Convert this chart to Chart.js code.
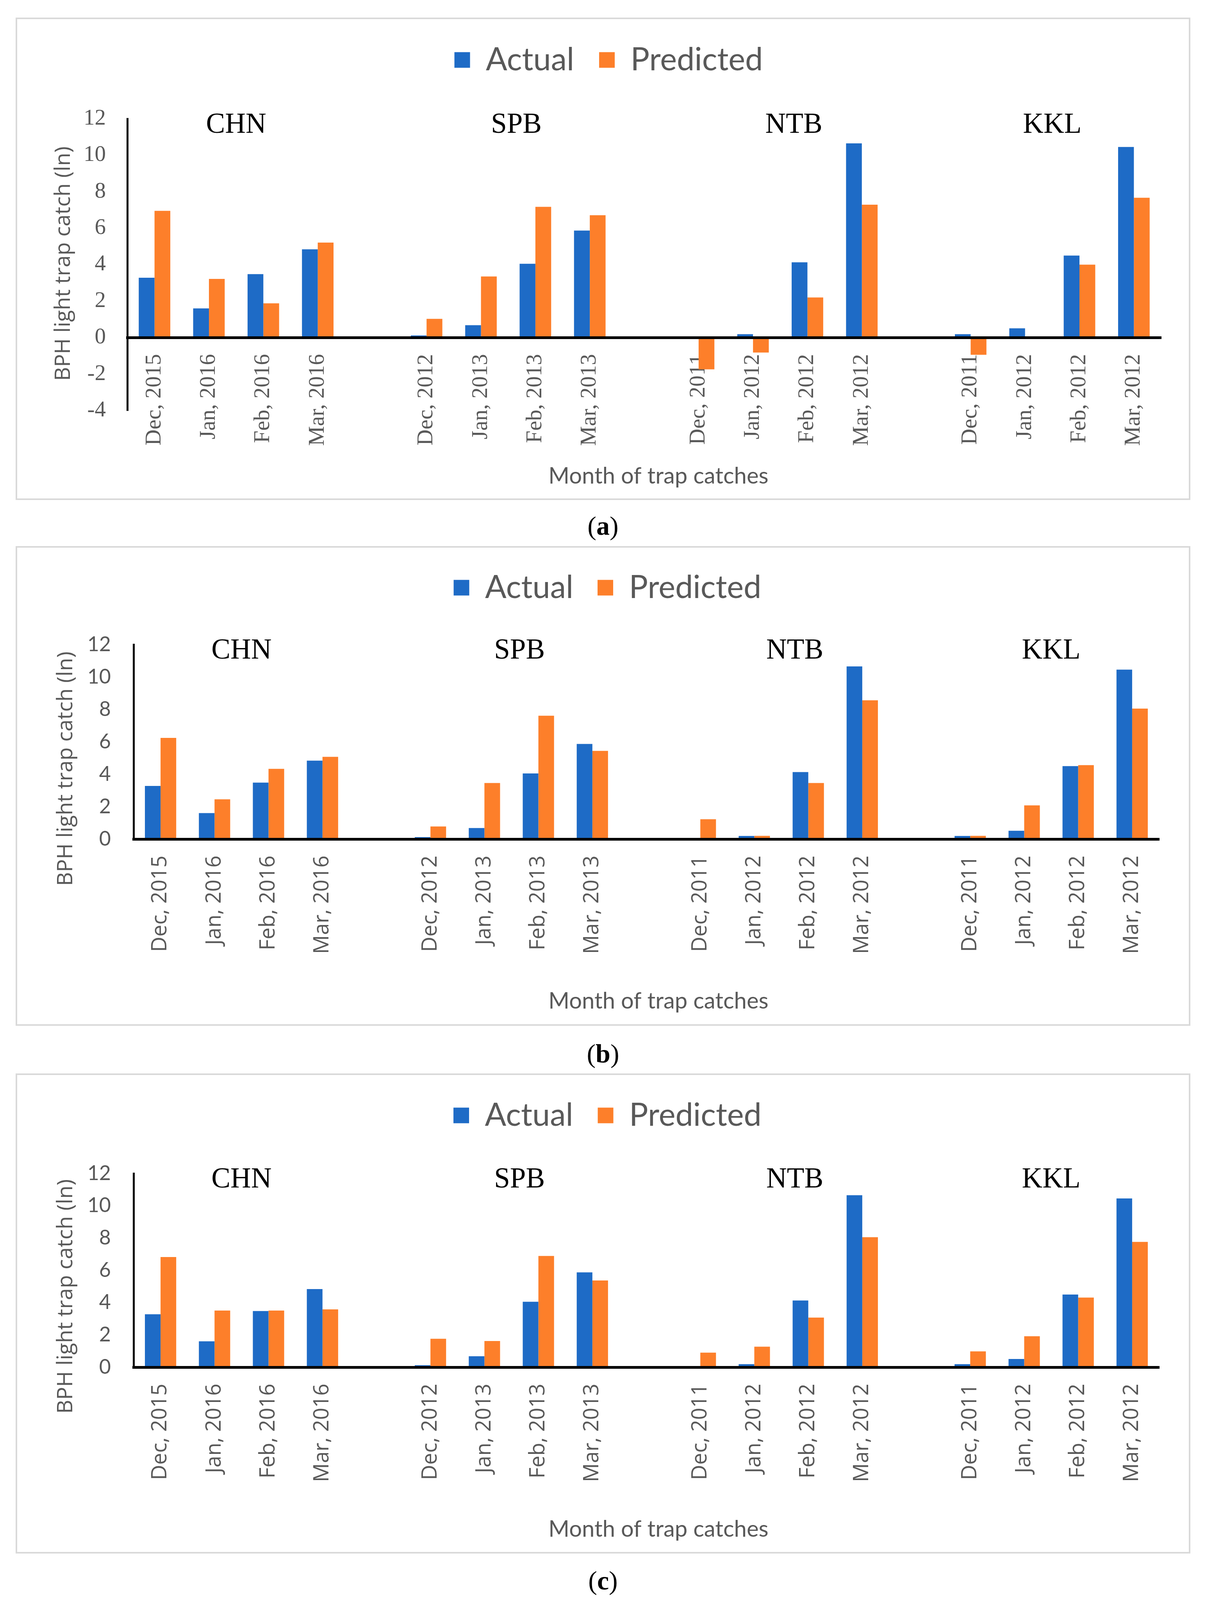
<!DOCTYPE html>
<html>
<head>
<meta charset="utf-8">
<script src="https://cdn.jsdelivr.net/npm/chart.js@4.4.1/dist/chart.umd.min.js"></script>
<style>
  html, body { margin: 0; padding: 0; background: #ffffff; }
  body { width: 3088px; height: 4135px; position: relative; overflow: hidden; }
  .panel { position: absolute; left: 40px; width: 3000px; border: 4px solid #d9d9d9; background: #fff; }
  .panel canvas { position: absolute; left: 0; top: 0; }
  .cap { position: absolute; left: 0; width: 3088px; text-align: center; font-family: "Liberation Serif", "DejaVu Serif", serif; font-size: 68px; line-height: 68px; color: #000; }
</style>
</head>
<body>
<div class="panel" id="pa" style="top:45px;height:1227px;"><canvas id="ca" width="3000" height="1227" style="width:3000px;height:1227px;"></canvas></div>
<div class="cap" style="top:1312px;">(<b>a</b>)</div>
<div class="panel" id="pb" style="top:1398px;height:1220px;"><canvas id="cb" width="3000" height="1220" style="width:3000px;height:1220px;"></canvas></div>
<div class="cap" style="top:2663px;">(<b>b</b>)</div>
<div class="panel" id="pc" style="top:2748px;height:1221px;"><canvas id="cc" width="3000" height="1221" style="width:3000px;height:1221px;"></canvas></div>
<div class="cap" style="top:4012px;">(<b>c</b>)</div>

<script>
// ---------------- DATA ----------------
const groups = ['CHN', 'SPB', 'NTB', 'KKL'];
const months = ['Dec, 2015', 'Jan, 2016', 'Feb, 2016', 'Mar, 2016',
                'Dec, 2012', 'Jan, 2013', 'Feb, 2013', 'Mar, 2013',
                'Dec, 2011', 'Jan, 2012', 'Feb, 2012', 'Mar, 2012',
                'Dec, 2011', 'Jan, 2012', 'Feb, 2012', 'Mar, 2012'];
const actual     = [3.28, 1.60, 3.48, 4.84, 0.12, 0.68, 4.05, 5.87, 0.00, 0.19, 4.13, 10.65, 0.19, 0.51, 4.50, 10.45];
const predictedA = [6.95, 3.22, 1.88, 5.21, 1.03, 3.35, 7.17, 6.71, -1.74, -0.82, 2.20, 7.29, -0.94, 0.00, 4.00, 7.67];
const predictedB = [6.24, 2.45, 4.33, 5.07, 0.78, 3.46, 7.61, 5.44, 1.22, 0.20, 3.46, 8.56, 0.20, 2.08, 4.56, 8.05];
const predictedC = [6.82, 3.51, 3.51, 3.58, 1.76, 1.62, 6.89, 5.37, 0.90, 1.27, 3.07, 8.05, 0.98, 1.92, 4.31, 7.76];
const yTicksA  = [-4, -2, 0, 2, 4, 6, 8, 10, 12];
const yTicksBC = [0, 2, 4, 6, 8, 10, 12];
const seriesNames = ['Actual', 'Predicted'];
const yTitle = 'BPH light trap catch (ln)';
const xTitle = 'Month of trap catches';

// ---------------- helpers ----------------
function pad(arr, filler) {            // insert an empty category between site groups
  const out = [];
  arr.forEach((v, i) => { if (i > 0 && i % 4 === 0) out.push(filler); out.push(v); });
  return out;
}
const BLUE = '#1e6bc6';
const ORANGE = '#fd7f2a';
const GRAY = '#595959';

const annotate = {
  id: 'annotate',
  afterDraw(chart, args, o) {
    const {ctx, chartArea, scales} = chart;
    const x = scales.x;
    ctx.save();
    // site labels
    ctx.fillStyle = '#000';
    ctx.font = '73px "Liberation Serif", serif';
    ctx.textAlign = 'center';
    ctx.textBaseline = 'alphabetic';
    groups.forEach((g, i) => {
      ctx.fillText(g, x.getPixelForValue(o.groupAt[i]), chartArea.top + o.groupBase);
    });
    // x axis title
    ctx.fillStyle = GRAY;
    ctx.font = '58px Lato, sans-serif';
    ctx.textBaseline = 'middle';
    ctx.fillText(xTitle, o.xTitleX, o.xTitleY);
    // y axis title
    ctx.translate(o.yTitleX, o.yTitleY);
    ctx.rotate(-Math.PI / 2);
    ctx.font = '55px "Open Sans", sans-serif';
    ctx.fillText(yTitle, 0, 0);
    ctx.restore();
  }
};

function makeChart(id, predicted, yTicks, s) {
  const ctx = document.getElementById(id);
  return new Chart(ctx, {
    type: 'bar',
    data: {
      labels: pad(months, ''),
      datasets: [
        { label: seriesNames[0], data: pad(actual, null), backgroundColor: BLUE, borderWidth: 0,
          categoryPercentage: 0.58, barPercentage: 1.0 },
        { label: seriesNames[1], data: pad(predicted, null), backgroundColor: ORANGE, borderWidth: 0,
          categoryPercentage: 0.58, barPercentage: 1.0 }
      ]
    },
    plugins: [annotate],
    options: {
      responsive: false,
      devicePixelRatio: 1,
      animation: false,
      layout: { padding: { top: 0, left: s.padLeft, right: s.padRight, bottom: s.padBottom } },
      plugins: {
        legend: {
          position: 'top', weight: 3000,
          labels: { boxWidth: 40, boxHeight: 40, padding: s.legendPad, color: GRAY,
                    font: { family: 'Lato', size: 81 } }
        },
        title: { display: true, text: '', font: { size: 10, lineHeight: 1 },
                 padding: { top: s.spacer - 10, bottom: 0 } },
        tooltip: { enabled: false },
        annotate: { groupAt: [1.5, 6.65, 11.75, 16.5], groupBase: 36,
                    yTitleX: s.yTitleX, yTitleY: s.yTitleY, xTitleX: 1642, xTitleY: s.xTitleY }
      },
      scales: {
        x: {
          type: 'category',
          position: { y: 0 },
          offset: true,
          grid: { display: false, drawTicks: false },
          border: { display: true, color: '#000', width: 7, z: 1 },
          ticks: { autoSkip: false, minRotation: 90, maxRotation: 90, padding: s.xTickPad,
                   color: GRAY, font: s.xTickFont }
        },
        y: {
          min: yTicks[0], max: yTicks[yTicks.length - 1],
          grid: { display: false, drawTicks: false },
          border: { display: true, color: '#000', width: 5 },
          ticks: { stepSize: yTicks[1] - yTicks[0], padding: s.yTickPad, color: GRAY, font: s.yTickFont },
          afterFit: (sc) => { sc.width = s.yWidth; }
        }
      }
    }
  });
}

makeChart('ca', predictedA, yTicksA, {
  legendPad: 64, spacer: 100, padBottom: 225, padLeft: 100, padRight: 71, yWidth: 182, yTickPad: 55,
  xTickPad: 42, yTitleX: 119, yTitleY: 626, xTitleY: 1170,
  yTickFont: { family: 'Liberation Serif', size: 57 }, xTickFont: { family: 'Liberation Serif', size: 57 }
});
makeChart('cb', predictedB, yTicksBC, {
  legendPad: 62, spacer: 95, padBottom: 474, padLeft: 99, padRight: 76, yWidth: 199, yTickPad: 58,
  xTickPad: 42, yTitleX: 125, yTitleY: 566, xTitleY: 1161,
  yTickFont: { family: 'Lato', size: 52 }, xTickFont: { family: 'Open Sans', size: 54 }
});
makeChart('cc', predictedC, yTicksBC, {
  legendPad: 63, spacer: 98, padBottom: 473, padLeft: 99, padRight: 76, yWidth: 199, yTickPad: 58,
  xTickPad: 42, yTitleX: 125, yTitleY: 567, xTitleY: 1163,
  yTickFont: { family: 'Lato', size: 52 }, xTickFont: { family: 'Open Sans', size: 54 }
});
</script>
</body>
</html>
